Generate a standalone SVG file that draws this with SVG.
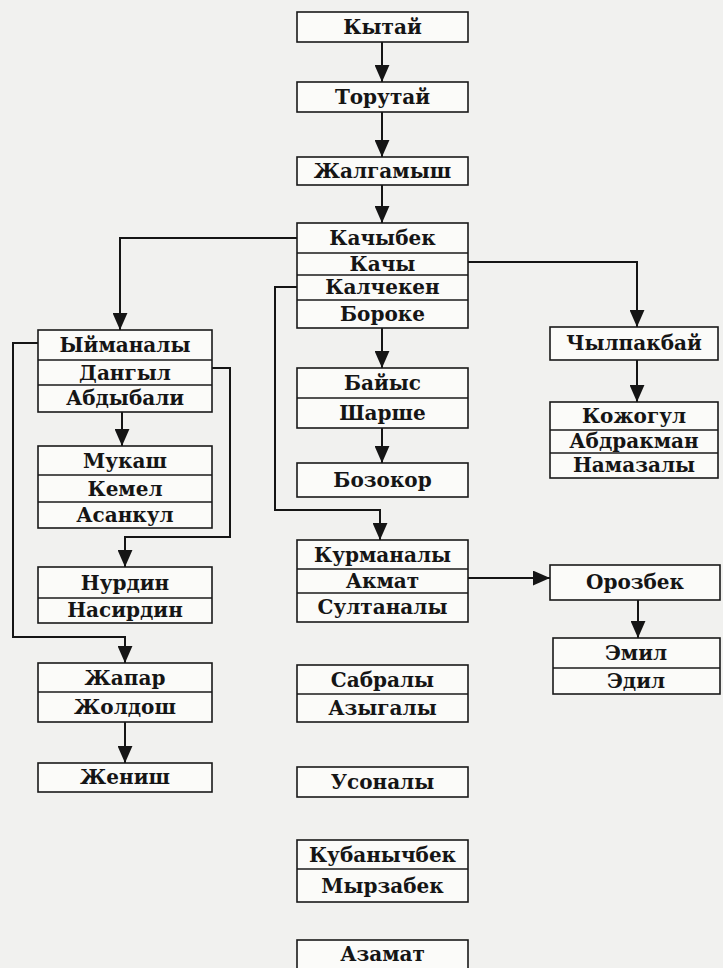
<svg xmlns="http://www.w3.org/2000/svg" width="723" height="968" viewBox="0 0 723 968">
<defs>
<marker id="ah" viewBox="0 0 16 14" refX="16" refY="7" markerWidth="17" markerHeight="15" markerUnits="userSpaceOnUse" orient="auto">
<path d="M0,0 L16,7 L0,14 z" fill="#151515"/>
</marker>
</defs>
<style>
.b{fill:#fbfbf9;stroke:#1a1a1a;stroke-width:1.6}
.d{stroke:#1a1a1a;stroke-width:1.4}
.t{font-family:"DejaVu Serif","Liberation Serif",serif;font-size:20px;font-weight:bold;fill:#151515;text-anchor:middle}
.c{fill:none;stroke:#151515;stroke-width:2}
</style>
<rect width="723" height="968" fill="#f1f1ef"/>

<g id="connectors">
<path class="c" d="M382,42 V82" marker-end="url(#ah)"/>
<path class="c" d="M382,112 V157" marker-end="url(#ah)"/>
<path class="c" d="M382,185 V223" marker-end="url(#ah)"/>
<path class="c" d="M297,238 H120 V330" marker-end="url(#ah)"/>
<path class="c" d="M468,262 H637 V327" marker-end="url(#ah)"/>
<path class="c" d="M297,287 H275 V510 H380 V540" marker-end="url(#ah)"/>
<path class="c" d="M382,328 V368" marker-end="url(#ah)"/>
<path class="c" d="M382,428 V463" marker-end="url(#ah)"/>
<path class="c" d="M468,578 H550" marker-end="url(#ah)"/>
<path class="c" d="M637,360 V402" marker-end="url(#ah)"/>
<path class="c" d="M638,600 V638" marker-end="url(#ah)"/>
<path class="c" d="M122,412 V446" marker-end="url(#ah)"/>
<path class="c" d="M212,368 H230 V537 H125 V567" marker-end="url(#ah)"/>
<path class="c" d="M38,343 H13 V637 H125 V663" marker-end="url(#ah)"/>
<path class="c" d="M125,722 V763" marker-end="url(#ah)"/>
</g>

<g id="kytai">
<rect class="b" x="297" y="12" width="171" height="30"/>
<text class="t" x="382.5" y="34">Кытай</text>
</g>
<g id="torutai">
<rect class="b" x="297" y="82" width="171" height="30"/>
<text class="t" x="382.5" y="104">Торутай</text>
</g>
<g id="zhalgamysh">
<rect class="b" x="297" y="157" width="171" height="28"/>
<text class="t" x="382.5" y="178">Жалгамыш</text>
</g>
<g id="kachybek">
<rect class="b" x="297" y="223" width="171" height="105"/>
<line class="d" x1="297" y1="253" x2="468" y2="253"/>
<line class="d" x1="297" y1="275" x2="468" y2="275"/>
<line class="d" x1="297" y1="300" x2="468" y2="300"/>
<text class="t" x="382.5" y="245">Качыбек</text>
<text class="t" x="382.5" y="271">Качы</text>
<text class="t" x="382.5" y="294">Калчекен</text>
<text class="t" x="382.5" y="321">Бороке</text>
</g>
<g id="bayys">
<rect class="b" x="297" y="368" width="171" height="60"/>
<line class="d" x1="297" y1="398" x2="468" y2="398"/>
<text class="t" x="382.5" y="390">Байыс</text>
<text class="t" x="382.5" y="420">Шарше</text>
</g>
<g id="bozokor">
<rect class="b" x="297" y="463" width="171" height="34"/>
<text class="t" x="382.5" y="487">Бозокор</text>
</g>
<g id="kurmanaly">
<rect class="b" x="297" y="540" width="171" height="82"/>
<line class="d" x1="297" y1="569" x2="468" y2="569"/>
<line class="d" x1="297" y1="593" x2="468" y2="593"/>
<text class="t" x="382.5" y="562">Курманалы</text>
<text class="t" x="382.5" y="588">Акмат</text>
<text class="t" x="382.5" y="614">Султаналы</text>
</g>
<g id="sabraly">
<rect class="b" x="297" y="665" width="171" height="57"/>
<line class="d" x1="297" y1="694" x2="468" y2="694"/>
<text class="t" x="382.5" y="687">Сабралы</text>
<text class="t" x="382.5" y="715">Азыгалы</text>
</g>
<g id="usonaly">
<rect class="b" x="297" y="767" width="171" height="30"/>
<text class="t" x="382.5" y="789">Усоналы</text>
</g>
<g id="kubanychbek">
<rect class="b" x="297" y="840" width="171" height="62"/>
<line class="d" x1="297" y1="869" x2="468" y2="869"/>
<text class="t" x="382.5" y="862">Кубанычбек</text>
<text class="t" x="382.5" y="893">Мырзабек</text>
</g>
<g id="azamat">
<rect class="b" x="297" y="940" width="171" height="32"/>
<text class="t" x="382.5" y="961">Азамат</text>
</g>

<g id="yimanaly">
<rect class="b" x="38" y="330" width="174" height="82"/>
<line class="d" x1="38" y1="360" x2="212" y2="360"/>
<line class="d" x1="38" y1="385" x2="212" y2="385"/>
<text class="t" x="125" y="352">Ыйманалы</text>
<text class="t" x="125" y="380">Дангыл</text>
<text class="t" x="125" y="405">Абдыбали</text>
</g>
<g id="mukash">
<rect class="b" x="38" y="446" width="174" height="82"/>
<line class="d" x1="38" y1="475" x2="212" y2="475"/>
<line class="d" x1="38" y1="502" x2="212" y2="502"/>
<text class="t" x="125" y="468">Мукаш</text>
<text class="t" x="125" y="496">Кемел</text>
<text class="t" x="125" y="522">Асанкул</text>
</g>
<g id="nurdin">
<rect class="b" x="38" y="567" width="174" height="56"/>
<line class="d" x1="38" y1="598" x2="212" y2="598"/>
<text class="t" x="125" y="590">Нурдин</text>
<text class="t" x="125" y="617">Насирдин</text>
</g>
<g id="zhapar">
<rect class="b" x="38" y="663" width="174" height="59"/>
<line class="d" x1="38" y1="692" x2="212" y2="692"/>
<text class="t" x="125" y="685">Жапар</text>
<text class="t" x="125" y="714">Жолдош</text>
</g>
<g id="zhenish">
<rect class="b" x="38" y="763" width="174" height="29"/>
<text class="t" x="125" y="784">Жениш</text>
</g>

<g id="chylpakbai">
<rect class="b" x="550" y="327" width="168" height="33"/>
<text class="t" x="634" y="350">Чылпакбай</text>
</g>
<g id="kozhogul">
<rect class="b" x="550" y="402" width="168" height="76"/>
<line class="d" x1="550" y1="430" x2="718" y2="430"/>
<line class="d" x1="550" y1="453" x2="718" y2="453"/>
<text class="t" x="634" y="423">Кожогул</text>
<text class="t" x="634" y="448">Абдракман</text>
<text class="t" x="634" y="472">Намазалы</text>
</g>
<g id="orozbek">
<rect class="b" x="550" y="565" width="170" height="35"/>
<text class="t" x="635" y="589">Орозбек</text>
</g>
<g id="emil">
<rect class="b" x="553" y="638" width="167" height="56"/>
<line class="d" x1="553" y1="668" x2="720" y2="668"/>
<text class="t" x="636" y="660">Эмил</text>
<text class="t" x="636" y="688">Эдил</text>
</g>
</svg>
